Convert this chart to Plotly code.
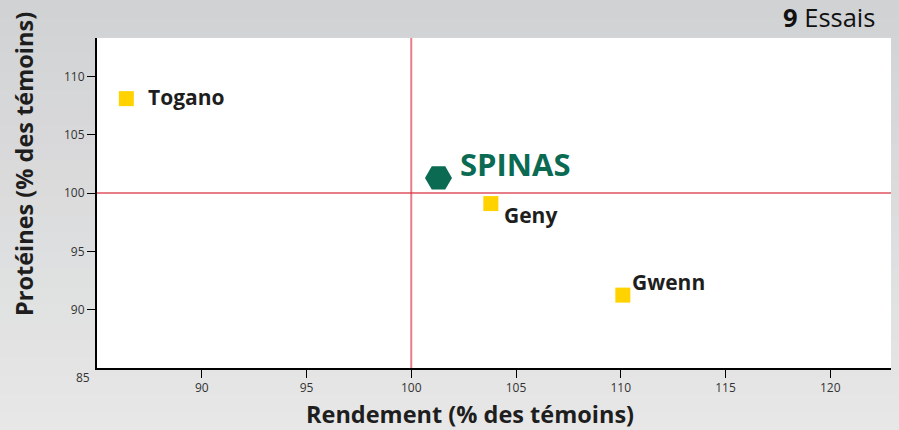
import plotly.graph_objects as go

# ---- data ----
varieties = ["Togano", "Geny", "Gwenn"]
rendement = [86.4, 103.8, 110.1]
proteines = [108.1, 99.1, 91.25]

spinas_name = ["SPINAS"]
spinas_rendement = [101.3]
spinas_proteines = [101.3]

x_ticks = [90, 95, 100, 105, 110, 115, 120]
y_ticks = [90, 95, 100, 105, 110]
origin_label = "85"
x_range = [85, 122.9]
y_range = [85, 113.3]
ref_value = 100
n_essais = "9"

x_title = "Rendement (% des témoins)"
y_title = "Protéines (% des témoins)"

FONT = "Open Sans, Noto Sans, sans-serif"
YELLOW = "#FFD200"
GREEN = "#0A6A52"
RED = "rgba(215,40,55,0.6)"

fig = go.Figure()

fig.add_trace(go.Scatter(
    x=rendement, y=proteines, mode="markers",
    marker=dict(symbol="square", size=15, color=YELLOW, line=dict(width=0)),
    hoverinfo="skip", showlegend=False, cliponaxis=False))

fig.add_trace(go.Scatter(
    x=spinas_rendement, y=spinas_proteines, mode="markers",
    marker=dict(symbol="hexagon2", size=27, color=GREEN, line=dict(width=0)),
    hoverinfo="skip", showlegend=False, cliponaxis=False))

# ---- gradient background (paper) ----
shapes = []
n_bands = 24
top_c = (0xD1, 0xD2, 0xD4)
bot_c = (0xE7, 0xE7, 0xE7)
H = 430
ph = 330.0
for i in range(n_bands):
    t = i / (n_bands - 1)
    c = tuple(int(round(top_c[k] + (bot_c[k] - top_c[k]) * t)) for k in range(3))
    y_top_px = H * i / n_bands
    y_bot_px = H * (i + 1) / n_bands + 1
    shapes.append(dict(
        type="rect", xref="paper", yref="paper", layer="below",
        x0=-0.2, x1=1.1,
        y0=(368 - y_bot_px) / ph, y1=(368 - y_top_px) / ph,
        fillcolor="rgb(%d,%d,%d)" % c, line=dict(width=0)))
# white plot area
shapes.append(dict(type="rect", xref="paper", yref="paper", layer="below",
                   x0=0, x1=1, y0=0, y1=1, fillcolor="white", line=dict(width=0)))
# reference lines
shapes.append(dict(type="line", xref="x", yref="paper", layer="below",
                   x0=ref_value, x1=ref_value, y0=0, y1=1, line=dict(color=RED, width=2)))
shapes.append(dict(type="line", xref="paper", yref="y", layer="below",
                   x0=0, x1=1, y0=ref_value, y1=ref_value, line=dict(color=RED, width=2)))

# ---- annotations ----
annotations = []
label_offsets = {"Togano": (20, 2), "Geny": (11, -11), "Gwenn": (7, 13)}
for name, xv, yv in zip(varieties, rendement, proteines):
    dx, dy = label_offsets[name]
    annotations.append(dict(
        x=xv, y=yv, xref="x", yref="y", text="<b>%s</b>" % name, showarrow=False,
        xanchor="left", yanchor="middle", xshift=dx, yshift=dy,
        font=dict(family=FONT, size=21, color="#1E1E1E")))
annotations.append(dict(
    x=spinas_rendement[0], y=spinas_proteines[0], xref="x", yref="y",
    text="<b>%s</b>" % spinas_name[0], showarrow=False,
    xanchor="left", yanchor="middle", xshift=20, yshift=14,
    font=dict(family=FONT, size=31, color=GREEN)))

annotations.append(dict(
    x=(470 - 97) / 794, y=(368 - 414) / ph, xref="paper", yref="paper",
    text="<b>%s</b>" % x_title, showarrow=False, xanchor="center", yanchor="middle",
    borderpad=0, font=dict(family=FONT, size=23.5, color="#1E1E1E")))
annotations.append(dict(
    x=(24 - 97) / 794, y=(368 - 164) / ph, xref="paper", yref="paper",
    text="<b>%s</b>" % y_title, showarrow=False, xanchor="center", yanchor="middle",
    textangle=-90, font=dict(family=FONT, size=23.5, color="#1E1E1E")))
annotations.append(dict(
    x=(876 - 97) / 794, y=(368 - 17) / ph, xref="paper", yref="paper",
    text="<b>%s</b> Essais" % n_essais, showarrow=False, xanchor="right", yanchor="middle",
    borderpad=0, font=dict(family=FONT, size=25.5, color="#111111")))
annotations.append(dict(
    x=(83 - 97) / 794, y=(368 - 377) / ph, xref="paper", yref="paper",
    text=origin_label, showarrow=False, xanchor="center", yanchor="middle",
    font=dict(family=FONT, size=12, color="#333333")))

axis_common = dict(
    showgrid=False, zeroline=False, showline=True, linecolor="black", linewidth=2,
    ticks="outside", ticklen=8, tickwidth=1, tickcolor="black",
    tickfont=dict(family=FONT, size=12, color="#333333"), fixedrange=True)

fig.update_layout(
    width=899, height=430,
    margin=dict(l=97, r=8, t=38, b=62),
    paper_bgcolor="#DCDDDE", plot_bgcolor="white",
    xaxis=dict(range=x_range, tickvals=x_ticks, **axis_common),
    yaxis=dict(range=y_range, tickvals=y_ticks, **axis_common),
    shapes=shapes, annotations=annotations, showlegend=False)

fig.write_html("out.html", post_script="document.body.style.margin='0';",
               config={"displayModeBar": False})
